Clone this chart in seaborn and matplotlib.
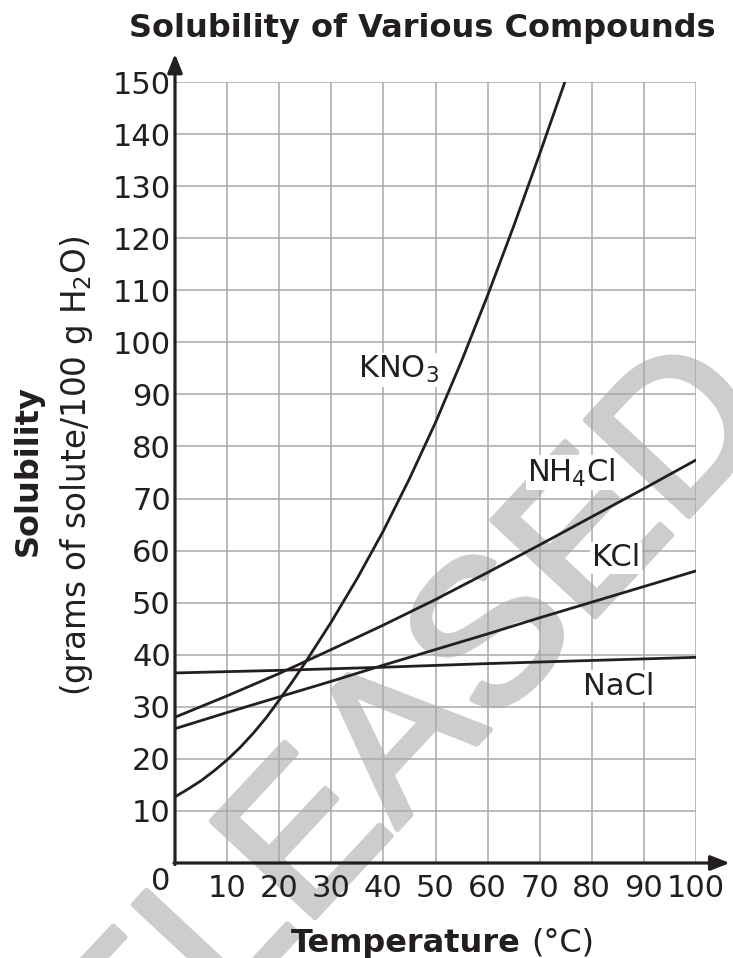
import numpy as np
import pandas as pd
import matplotlib
matplotlib.use("Agg")
import matplotlib.pyplot as plt
import matplotlib.patheffects as pe
import seaborn as sns

# ---- data ----
kno3_t = [0, 2.5, 5, 7.5, 10, 12.5, 15, 17.5, 20, 22.5, 25, 27.5, 30, 35, 40, 45, 50, 55, 60, 65, 70, 75]
kno3_s = [12.7, 14.2, 15.8, 17.7, 19.8, 22.2, 24.9, 27.9, 31.3, 34.8, 38.5, 42.4, 46.3,
          54.7, 63.8, 73.8, 84.6, 96.4, 109.0, 122.3, 136.2, 150.5]

nh4cl_t = [0, 10, 20, 30, 40, 50, 60, 70, 80, 90, 100]
nh4cl_s = [28.0, 32.1, 36.4, 41.0, 45.7, 50.6, 55.8, 61.1, 66.5, 71.9, 77.4]

kcl_t = [0, 10, 20, 30, 40, 50, 60, 70, 80, 90, 100]
kcl_s = [25.8, 28.9, 31.9, 34.9, 38.0, 41.0, 44.0, 47.1, 50.1, 53.1, 56.1]

nacl_t = [0, 20, 40, 60, 80, 100]
nacl_s = [36.5, 37.0, 37.6, 38.3, 38.9, 39.5]

x_ticks = [0, 10, 20, 30, 40, 50, 60, 70, 80, 90, 100]
y_ticks = [0, 10, 20, 30, 40, 50, 60, 70, 80, 90, 100, 110, 120, 130, 140, 150]

series_names = ["KNO$_3$", "NH$_4$Cl", "KCl", "NaCl"]
label_pos = {"KNO$_3$": (35.1, 93.1), "NH$_4$Cl": (67.6, 73.2), "KCl": (80.0, 57.0), "NaCl": (78.3, 32.3)}

df = pd.concat([
    pd.DataFrame({"T": kno3_t, "S": kno3_s, "compound": "KNO3"}),
    pd.DataFrame({"T": nh4cl_t, "S": nh4cl_s, "compound": "NH4Cl"}),
    pd.DataFrame({"T": kcl_t, "S": kcl_s, "compound": "KCl"}),
    pd.DataFrame({"T": nacl_t, "S": nacl_s, "compound": "NaCl"}),
], ignore_index=True)

sns.set_style("white")
plt.rcParams["font.family"] = ["DejaVu Sans"]
plt.rcParams["mathtext.fontset"] = "dejavusans"
plt.rcParams["mathtext.default"] = "regular"

INK = "#231f20"
W, H = 733, 958
fig = plt.figure(figsize=(W / 100, H / 100), dpi=100)
ax = fig.add_axes([175 / W, 95 / H, 521 / W, 781 / H])
ax.patch.set_alpha(0)

sns.lineplot(data=df, x="T", y="S", units="compound", estimator=None,
             color=INK, linewidth=2.0, ax=ax, zorder=3, sort=False)

ax.set_xlim(0, 100)
ax.set_ylim(0, 150)
ax.set_xticks(x_ticks)
ax.set_yticks(y_ticks)
ax.set_xticklabels([""] + [str(v) for v in x_ticks[1:]])
ax.set_yticklabels([""] + [str(v) for v in y_ticks[1:]])
ax.tick_params(axis="both", length=0, labelsize=22, colors=INK)
ax.tick_params(axis="x", pad=8)
ax.tick_params(axis="y", pad=3)
ax.grid(True, color="#a8a8a8", linewidth=1.1, zorder=0)
ax.set_axisbelow(True)
for s in ax.spines.values():
    s.set_visible(False)
ax.set_xlabel("")
ax.set_ylabel("")

# axis arrows
ap = dict(arrowstyle="-|>,head_length=0.46,head_width=0.18", lw=2.3, color=INK,
          shrinkA=0, shrinkB=0, mutation_scale=25)
ax.annotate("", xy=(1.065, 0), xycoords="axes fraction", xytext=(-0.002, 0),
            arrowprops=ap, annotation_clip=False)
ax.annotate("", xy=(0, 1.036), xycoords="axes fraction", xytext=(0, -0.002),
            arrowprops=dict(ap, arrowstyle="-|>,head_length=0.45,head_width=0.18"),
            annotation_clip=False)

# origin label
fig.text(170 / W, 1 - 881 / H, "0", fontsize=22, color=INK, ha="right", va="center")

# series labels
for name in series_names:
    x, y = label_pos[name]
    ax.text(x, y, name, fontsize=22, color=INK, ha="left", va="baseline", zorder=4,
            bbox=dict(facecolor="white", edgecolor="none", pad=1))

# titles
fig.text(422 / W, 1 - 37 / H, "Solubility of Various Compounds", fontsize=23,
         fontweight="bold", color=INK, ha="center", va="baseline")
fig.text(521 / W, 1 - 952 / H, "Temperature", fontsize=23, fontweight="bold",
         color=INK, ha="right", va="baseline")
fig.text(531 / W, 1 - 952 / H, "(°C)", fontsize=23, color=INK, ha="left", va="baseline")
fig.text(28 / W, 1 - 471 / H, "Solubility", fontsize=23, fontweight="bold",
         color=INK, ha="center", va="center", rotation=90)
fig.text(77 / W, 1 - 466 / H, "(grams of solute/100 g H$_2$O)", fontsize=23.5,
         color=INK, ha="center", va="center", rotation=90)

# watermark (drawn beneath the transparent axes, so grid and curves sit on top)
WM = "#cdcdcd"
fig.text(366 / W, 1 - 785 / H, "RELEASED", fontsize=148,
         family=["Liberation Sans", "DejaVu Sans"],
         color=WM, ha="center", va="center", rotation=47,
         rotation_mode="anchor", zorder=-1,
         path_effects=[pe.withStroke(linewidth=4, foreground=WM)])

fig.savefig("out.png", dpi=100)
